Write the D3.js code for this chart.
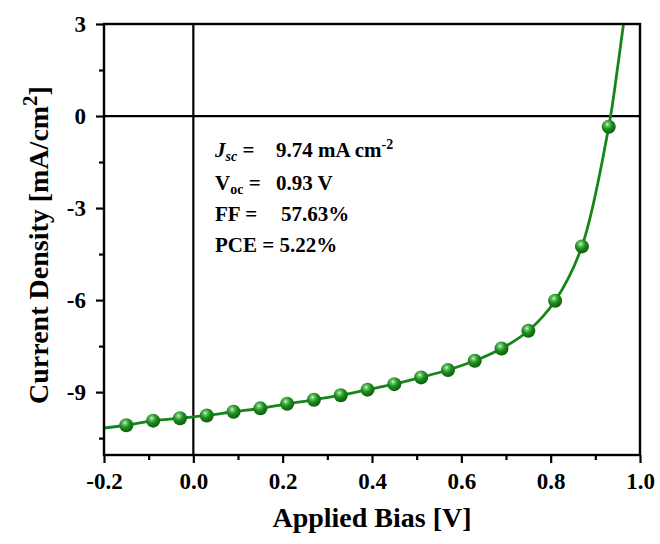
<!DOCTYPE html>
<html>
<head>
<meta charset="utf-8">
<script src="https://cdn.jsdelivr.net/npm/d3@7"></script>
<style>
  body { margin: 0; background: #fff; }
  svg { display: block; }
  text { font-family: "Liberation Serif", "Times New Roman", serif; font-weight: bold; fill: #000; }
</style>
</head>
<body>
<svg id="chart" width="660" height="544"></svg>
<script>
// Measured J-V points (bias in V, current density in mA/cm^2)
const biasV = [-0.15, -0.09, -0.03, 0.03, 0.09, 0.15, 0.21, 0.27, 0.33, 0.39,
               0.45, 0.51, 0.57, 0.63, 0.69, 0.75, 0.81, 0.87, 0.93];
const currentJ = [-10.08, -9.93, -9.85, -9.76, -9.64, -9.53, -9.38, -9.25, -9.10, -8.92,
                  -8.74, -8.52, -8.28, -7.98, -7.58, -7.00, -6.02, -4.25, -0.35];

// Fitted curve ends extending beyond the measured range
const fitStartV = [-0.2];
const fitStartJ = [-10.17];
const fitEndV = [0.95, 0.963];
const fitEndJ = [1.6, 3.0];

// Axis ticks
const xTicks = [-0.2, 0.0, 0.2, 0.4, 0.6, 0.8, 1.0];
const xMinor = [-0.1, 0.1, 0.3, 0.5, 0.7, 0.9];
const yTicks = [3, 0, -3, -6, -9];
const yMinor = [1.5, -1.5, -4.5, -7.5, -10.5];

// Device parameters
const paramLines = [
  { label: "J", sub: "sc", eq: " = ", value: "9.74 mA cm", sup: "-2" },
  { label: "V", sub: "oc", eq: " = ", value: "0.93 V" },
  { label: "FF", eq: " = ", value: "57.63%" },
  { label: "PCE", eq: " = ", value: "5.22%" }
];

const svg = d3.select("#chart");
const plotL = 104, plotR = 640, plotT = 24, plotB = 455;

const x = d3.scaleLinear().domain([-0.2, 1.0]).range([plotL, plotR]);
const y = d3.scaleLinear().domain([3, -11.05]).range([plotT, plotB]);

const green = "#16861a";
// plain hyphen for negative tick labels
const hyphen = f => d => f(d).replace("\u2212", "-");

// Marker gradient: glossy sphere
const defs = svg.append("defs");
const grad = defs.append("radialGradient").attr("id", "ball")
  .attr("cx", "0.4").attr("cy", "0.33").attr("r", "0.68");
grad.append("stop").attr("offset", "0").attr("stop-color", "#f2fbf2");
grad.append("stop").attr("offset", "0.15").attr("stop-color", "#78cc78");
grad.append("stop").attr("offset", "0.5").attr("stop-color", "#1d8f1d");
grad.append("stop").attr("offset", "1").attr("stop-color", "#0c5c0c");

defs.append("clipPath").attr("id", "plotClip")
  .append("rect").attr("x", plotL).attr("y", plotT).attr("width", plotR - plotL).attr("height", plotB - plotT);

// Zero reference lines
svg.append("line").attr("x1", plotL).attr("x2", plotR).attr("y1", y(0)).attr("y2", y(0))
  .attr("stroke", "#000").attr("stroke-width", 2.2);
svg.append("line").attr("x1", x(0)).attr("x2", x(0)).attr("y1", plotT).attr("y2", plotB)
  .attr("stroke", "#000").attr("stroke-width", 2.2);

// Fitted curve
const curvePts = fitStartV.map((v, i) => [v, fitStartJ[i]])
  .concat(biasV.map((v, i) => [v, currentJ[i]]))
  .concat(fitEndV.map((v, i) => [v, fitEndJ[i]]));
const line = d3.line().x(d => x(d[0])).y(d => y(d[1])).curve(d3.curveCatmullRom.alpha(0.5));
svg.append("path").attr("d", line(curvePts)).attr("fill", "none")
  .attr("stroke", green).attr("stroke-width", 2.8).attr("clip-path", "url(#plotClip)");

// Markers
svg.append("g").selectAll("circle").data(biasV).join("circle")
  .attr("cx", d => x(d)).attr("cy", (d, i) => y(currentJ[i])).attr("r", 7)
  .attr("fill", "url(#ball)");

// Frame
svg.append("rect").attr("x", plotL).attr("y", plotT).attr("width", plotR - plotL).attr("height", plotB - plotT)
  .attr("fill", "none").attr("stroke", "#000").attr("stroke-width", 2.4);

// X axis
const xAxis = d3.axisBottom(x).tickValues(xTicks).tickSize(8).tickPadding(10)
  .tickFormat(hyphen(d3.format(".1f")));
const gx = svg.append("g").attr("transform", `translate(0,${plotB})`).call(xAxis);
gx.select(".domain").remove();
gx.selectAll("line").attr("stroke-width", 2.2);
gx.selectAll("text").style("font-size", "23px").attr("font-family", null).attr("dy", "0.7em");
const gxm = svg.append("g").attr("transform", `translate(0,${plotB})`)
  .call(d3.axisBottom(x).tickValues(xMinor).tickSize(5).tickFormat(""));
gxm.select(".domain").remove();
gxm.selectAll("line").attr("stroke-width", 2.2);

// Y axis
const yAxis = d3.axisLeft(y).tickValues(yTicks).tickSize(8).tickPadding(10)
  .tickFormat(hyphen(d3.format("d")));
const gy = svg.append("g").attr("transform", `translate(${plotL},0)`).call(yAxis);
gy.select(".domain").remove();
gy.selectAll("line").attr("stroke-width", 2.2);
gy.selectAll("text").style("font-size", "23px").attr("font-family", null);
const gym = svg.append("g").attr("transform", `translate(${plotL},0)`)
  .call(d3.axisLeft(y).tickValues(yMinor).tickSize(5).tickFormat(""));
gym.select(".domain").remove();
gym.selectAll("line").attr("stroke-width", 2.2);

// Axis titles
svg.append("text").attr("x", 372).attr("y", 527).attr("text-anchor", "middle")
  .style("font-size", "28px").text("Applied Bias [V]");

const yt = svg.append("text").attr("transform", "translate(48,245) rotate(-90)")
  .attr("text-anchor", "middle").style("font-size", "28px");
yt.append("tspan").text("Current Density [mA/cm");
yt.append("tspan").attr("dy", "-11").style("font-size", "21px").text("2");
yt.append("tspan").attr("dy", "11").text("]");

// Parameter annotation
const ann = svg.append("g");
const baseY = [157, 190, 221, 252];
const valueX = [276, 276, 281, 0];
paramLines.forEach((p, i) => {
  const t = ann.append("text").attr("x", 215).attr("y", baseY[i]).style("font-size", "21px");
  if (p.sub) {
    const lab = t.append("tspan").text(p.label);
    if (p.label === "J") lab.style("font-style", "italic");
    t.append("tspan").attr("dy", 4).style("font-size", "14px")
      .style("font-style", p.label === "J" ? "italic" : "normal").text(p.sub);
    t.append("tspan").attr("dy", -4).text(p.eq.trimEnd());
  } else {
    t.append("tspan").text(p.label + p.eq.trimEnd());
  }
  if (valueX[i]) {
    const v = ann.append("text").attr("x", valueX[i]).attr("y", baseY[i]).style("font-size", "21px");
    v.append("tspan").text(p.value);
    if (p.sup) v.append("tspan").attr("dy", -8).style("font-size", "14px").text(p.sup);
  } else {
    t.append("tspan").text(" " + p.value);
  }
});
</script>
</body>
</html>
